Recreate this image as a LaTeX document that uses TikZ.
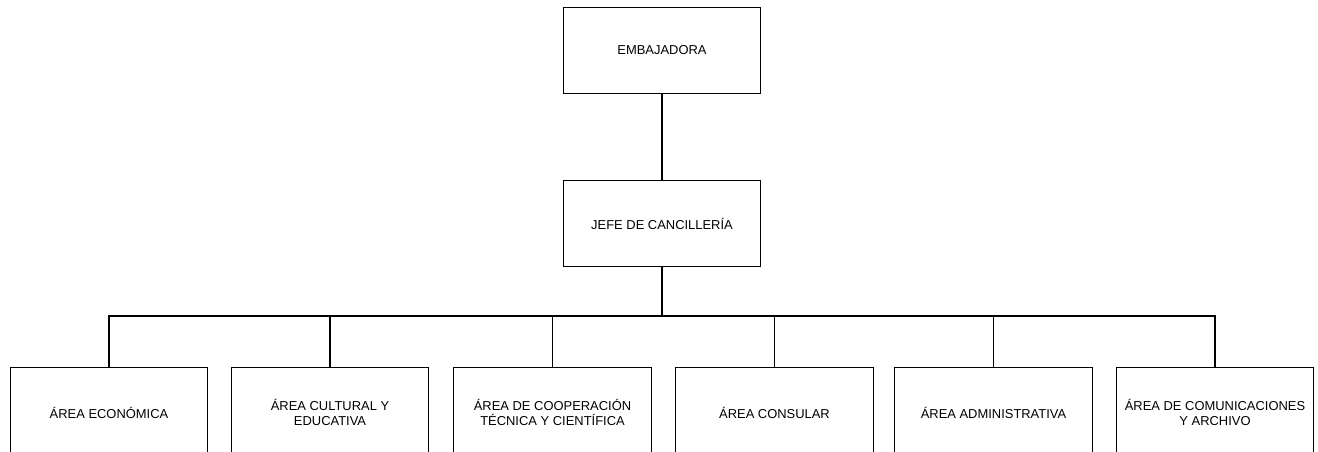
\documentclass[tikz,border=0pt]{standalone}
\usepackage{fontspec}
\setmainfont{Liberation Sans}

\begin{document}
\begin{tikzpicture}[x=0.75pt, y=-0.75pt,
    box/.style={rectangle, draw=black, line width=0.9pt, fill=white,
        minimum width=148pt, minimum height=65pt, inner sep=2pt,
        align=center, font=\fontsize{9.7}{10.8}\selectfont},
    area/.style={box, minimum height=67pt},
    edge/.style={line width=0.9pt, -}
]
    \path[use as bounding box, clip] (0,0) rectangle (1318,451);
    \node[box] (emb) at (662,50.5) {EMBAJADORA};
    \node[box] (jefe) at (662,223.5) {JEFE DE CANCILLERÍA};
    \coordinate (bus) at (662,316);
    \node[area] (eco) at (109,412.5) {ÁREA ECONÓMICA};
    \node[area] (cul) at (330,412.5) {ÁREA CULTURAL Y\\EDUCATIVA};
    \node[area] (coop) at (552.5,412.5) {ÁREA DE COOPERACIÓN\\TÉCNICA Y CIENTÍFICA};
    \node[area] (cons) at (774.5,412.5) {ÁREA CONSULAR};
    \node[area] (adm) at (993.5,412.5) {ÁREA ADMINISTRATIVA};
    \node[area] (com) at (1215,412.5) {ÁREA DE COMUNICACIONES\\Y ARCHIVO};
    \draw[edge] (emb) -- (jefe);
    \draw[edge] (jefe) -- (bus);
    \draw[edge] (bus) -| (eco);
    \draw[edge] (bus) -| (cul);
    \draw[edge] (bus) -| (coop);
    \draw[edge] (bus) -| (cons);
    \draw[edge] (bus) -| (adm);
    \draw[edge] (bus) -| (com);
\end{tikzpicture}
\end{document}
